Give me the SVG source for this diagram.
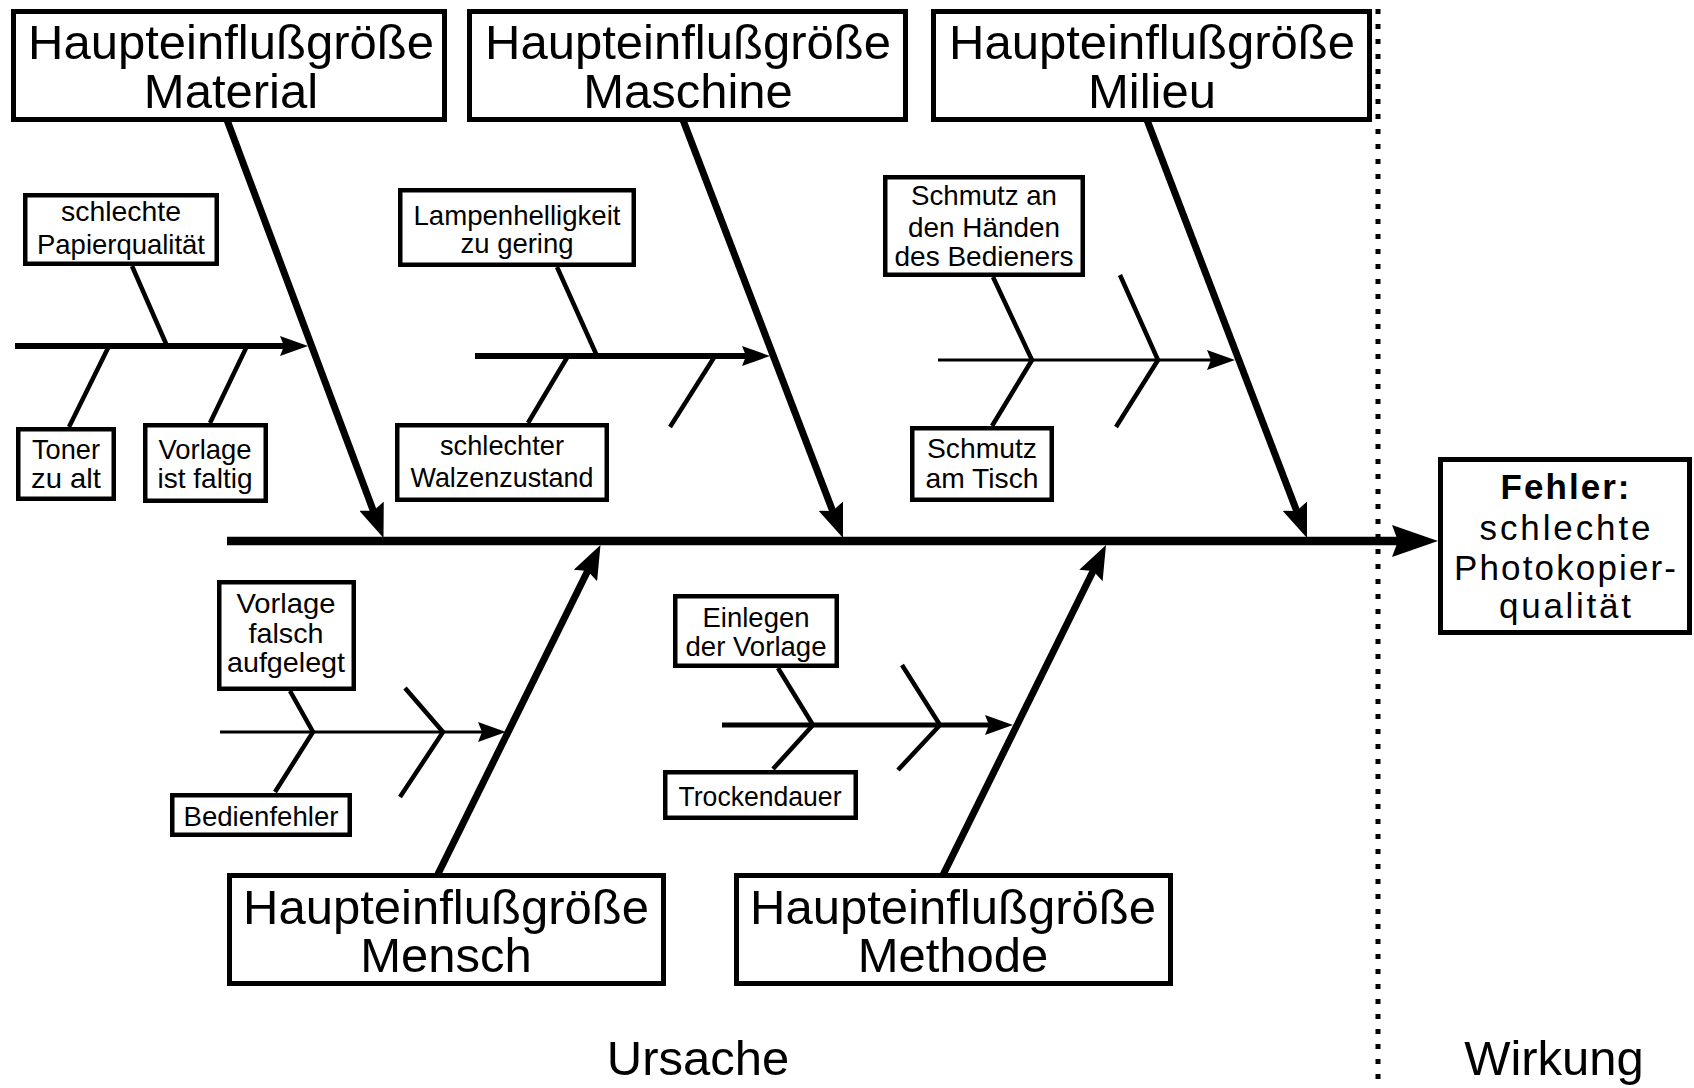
<svg xmlns="http://www.w3.org/2000/svg" width="1694" height="1088" viewBox="0 0 1694 1088">
  <style>
    .box{fill:#fff;stroke:#000;stroke-width:5}
    .cbox{fill:#fff;stroke:#000;stroke-width:4.5}
    .t{font-family:"Liberation Sans",Arial,sans-serif;fill:#000;text-anchor:middle}
    .big{font-size:49px}
    .small{font-size:28px}
    .eff{font-size:35px}
    .b{font-weight:bold}
    .spine{stroke:#000;stroke-width:8.5;fill:none}
    .bone{stroke:#000;stroke-width:7;fill:none}
    .sub{stroke:#000;stroke-width:6;fill:none}
    .sub5{stroke:#000;stroke-width:5;fill:none}
    .thin{stroke:#000;stroke-width:3;fill:none}
    .rib{stroke:#000;stroke-width:4.5;fill:none;stroke-linejoin:miter}
    .sep{stroke:#000;stroke-width:5;stroke-dasharray:5 10}
  </style>
  <defs>
    <marker id="arrowSpine" markerUnits="userSpaceOnUse" viewBox="0 -16 46 32" markerWidth="46" markerHeight="32" refX="30" refY="0" orient="auto">
      <path d="M0,-16 L46,0 L0,16 L6,0 Z" fill="#000"/>
    </marker>
    <marker id="arrowBone" markerUnits="userSpaceOnUse" viewBox="0 -13 34 26" markerWidth="34" markerHeight="26" refX="20" refY="0" orient="auto">
      <path d="M0,-13 L34,0 L0,13 L5,0 Z" fill="#000"/>
    </marker>
    <marker id="arrowSub" markerUnits="userSpaceOnUse" viewBox="0 -10 28 20" markerWidth="28" markerHeight="20" refX="16" refY="0" orient="auto">
      <path d="M0,-10 L28,0 L0,10 L4,0 Z" fill="#000"/>
    </marker>
  </defs>

  <rect width="1694" height="1088" fill="#fff"/>

  <!-- cause / effect separator -->
  <line class="sep" x1="1378" y1="9" x2="1378" y2="1088"/>

  <g id="connectors">
    <!-- main spine -->
    <line class="spine" x1="227" y1="541" x2="1422" y2="541" marker-end="url(#arrowSpine)"/>
    <!-- main bones -->
    <line class="bone" x1="227" y1="120" x2="378.6" y2="524.9" marker-end="url(#arrowBone)"/>
    <line class="bone" x1="683" y1="120" x2="838.0" y2="524.9" marker-end="url(#arrowBone)"/>
    <line class="bone" x1="1147" y1="120" x2="1302.0" y2="524.9" marker-end="url(#arrowBone)"/>
    <line class="bone" x1="437.5" y1="875" x2="594.3" y2="557.5" marker-end="url(#arrowBone)"/>
    <line class="bone" x1="943" y1="875" x2="1099.8" y2="557.5" marker-end="url(#arrowBone)"/>

    <!-- Material branch -->
    <line class="sub" x1="15" y1="346" x2="296" y2="346" marker-end="url(#arrowSub)"/>
    <line class="rib" x1="132" y1="266" x2="167" y2="346"/>
    <line class="rib" x1="69" y1="427" x2="109" y2="346"/>
    <line class="rib" x1="210" y1="423" x2="247" y2="346"/>

    <!-- Maschine branch -->
    <line class="sub" x1="475" y1="356" x2="758" y2="356" marker-end="url(#arrowSub)"/>
    <line class="rib" x1="557" y1="267" x2="597" y2="356"/>
    <line class="rib" x1="528" y1="423" x2="568" y2="356"/>
    <line class="rib" x1="715" y1="356" x2="670" y2="427"/>

    <!-- Milieu branch -->
    <line class="thin" x1="938" y1="360" x2="1223" y2="360" marker-end="url(#arrowSub)"/>
    <polyline class="rib" points="993,277 1032,360 992,426"/>
    <polyline class="rib" points="1120,275 1158,360 1116,427"/>

    <!-- Mensch branch -->
    <line class="thin" x1="220" y1="732" x2="494" y2="732" marker-end="url(#arrowSub)"/>
    <polyline class="rib" points="290,691 313,732 275,792"/>
    <polyline class="rib" points="405,688 443,732 400,797"/>

    <!-- Methode branch -->
    <line class="sub5" x1="722" y1="725" x2="1001" y2="725" marker-end="url(#arrowSub)"/>
    <polyline class="rib" points="778,668 813,725 773,769"/>
    <polyline class="rib" points="902,665 940,725 898,770"/>
  </g>

  <!-- main influence factors -->
  <g id="material">
    <rect class="box" x="13.5" y="11.5" width="431" height="108"/>
    <text class="t big" x="231" y="59">Haupteinflußgröße</text>
    <text class="t big" x="231" y="108">Material</text>
  </g>
  <g id="maschine">
    <rect class="box" x="469.5" y="11.5" width="436" height="108"/>
    <text class="t big" x="688" y="59">Haupteinflußgröße</text>
    <text class="t big" x="688" y="108">Maschine</text>
  </g>
  <g id="milieu">
    <rect class="box" x="933.5" y="11.5" width="436" height="108"/>
    <text class="t big" x="1152" y="59">Haupteinflußgröße</text>
    <text class="t big" x="1152" y="108">Milieu</text>
  </g>
  <g id="mensch">
    <rect class="box" x="229.5" y="875.5" width="434" height="108"/>
    <text class="t big" x="446" y="924">Haupteinflußgröße</text>
    <text class="t big" x="446" y="972">Mensch</text>
  </g>
  <g id="methode">
    <rect class="box" x="736.5" y="875.5" width="434" height="108"/>
    <text class="t big" x="953" y="924">Haupteinflußgröße</text>
    <text class="t big" x="953" y="972">Methode</text>
  </g>

  <!-- effect -->
  <g id="fehler">
    <rect class="box" x="1440.5" y="459.5" width="249" height="173"/>
    <text class="t eff b" x="1565" y="499" textLength="129" lengthAdjust="spacing">Fehler:</text>
    <text class="t eff" x="1565" y="540" textLength="171" lengthAdjust="spacing">schlechte</text>
    <text class="t eff" x="1565" y="580" textLength="222" lengthAdjust="spacing">Photokopier-</text>
    <text class="t eff" x="1565" y="618" textLength="132" lengthAdjust="spacing">qualität</text>
  </g>

  <!-- individual causes -->
  <g id="papierqualitaet">
    <rect class="cbox" x="25.25" y="195.25" width="191.5" height="68.5"/>
    <text class="t small" x="121" y="221" textLength="120" lengthAdjust="spacingAndGlyphs">schlechte</text>
    <text class="t small" x="121" y="254" textLength="168" lengthAdjust="spacingAndGlyphs">Papierqualität</text>
  </g>
  <g id="toner">
    <rect class="cbox" x="18.25" y="429.25" width="95.5" height="69.5"/>
    <text class="t small" x="66" y="459" textLength="68" lengthAdjust="spacingAndGlyphs">Toner</text>
    <text class="t small" x="66" y="488" textLength="70" lengthAdjust="spacingAndGlyphs">zu alt</text>
  </g>
  <g id="vorlage-faltig">
    <rect class="cbox" x="145.25" y="425.25" width="120.5" height="75.5"/>
    <text class="t small" x="205" y="459" textLength="93" lengthAdjust="spacingAndGlyphs">Vorlage</text>
    <text class="t small" x="205" y="488" textLength="95" lengthAdjust="spacingAndGlyphs">ist faltig</text>
  </g>
  <g id="lampenhelligkeit">
    <rect class="cbox" x="400.25" y="190.25" width="233.5" height="74.5"/>
    <text class="t small" x="517" y="225" textLength="207" lengthAdjust="spacingAndGlyphs">Lampenhelligkeit</text>
    <text class="t small" x="517" y="253" textLength="113" lengthAdjust="spacingAndGlyphs">zu gering</text>
  </g>
  <g id="walzenzustand">
    <rect class="cbox" x="397.25" y="425.25" width="209.5" height="74.5"/>
    <text class="t small" x="502" y="455" textLength="124" lengthAdjust="spacingAndGlyphs">schlechter</text>
    <text class="t small" x="502" y="487" textLength="183" lengthAdjust="spacingAndGlyphs">Walzenzustand</text>
  </g>
  <g id="schmutz-haende">
    <rect class="cbox" x="885.25" y="177.25" width="197.5" height="97.5"/>
    <text class="t small" x="984" y="205" textLength="146" lengthAdjust="spacingAndGlyphs">Schmutz an</text>
    <text class="t small" x="984" y="237" textLength="152" lengthAdjust="spacingAndGlyphs">den Händen</text>
    <text class="t small" x="984" y="266" textLength="179" lengthAdjust="spacingAndGlyphs">des Bedieners</text>
  </g>
  <g id="schmutz-tisch">
    <rect class="cbox" x="912.25" y="428.25" width="139.5" height="71.5"/>
    <text class="t small" x="982" y="458" textLength="110" lengthAdjust="spacingAndGlyphs">Schmutz</text>
    <text class="t small" x="982" y="488" textLength="113" lengthAdjust="spacingAndGlyphs">am Tisch</text>
  </g>
  <g id="vorlage-falsch">
    <rect class="cbox" x="219.25" y="582.25" width="134.5" height="106.5"/>
    <text class="t small" x="286" y="613" textLength="99" lengthAdjust="spacingAndGlyphs">Vorlage</text>
    <text class="t small" x="286" y="643" textLength="75" lengthAdjust="spacingAndGlyphs">falsch</text>
    <text class="t small" x="286" y="672" textLength="118" lengthAdjust="spacingAndGlyphs">aufgelegt</text>
  </g>
  <g id="bedienfehler">
    <rect class="cbox" x="172.25" y="795.25" width="177.5" height="39.5"/>
    <text class="t small" x="261" y="826" textLength="155" lengthAdjust="spacingAndGlyphs">Bedienfehler</text>
  </g>
  <g id="einlegen">
    <rect class="cbox" x="675.25" y="596.25" width="161.5" height="69.5"/>
    <text class="t small" x="756" y="627" textLength="107" lengthAdjust="spacingAndGlyphs">Einlegen</text>
    <text class="t small" x="756" y="656" textLength="141" lengthAdjust="spacingAndGlyphs">der Vorlage</text>
  </g>
  <g id="trockendauer">
    <rect class="cbox" x="665.25" y="772.25" width="190.5" height="45.5"/>
    <text class="t small" x="760" y="806" textLength="163" lengthAdjust="spacingAndGlyphs">Trockendauer</text>
  </g>

  <!-- region captions -->
  <text class="t big" x="698" y="1075">Ursache</text>
  <text class="t big" x="1554" y="1075">Wirkung</text>
</svg>
